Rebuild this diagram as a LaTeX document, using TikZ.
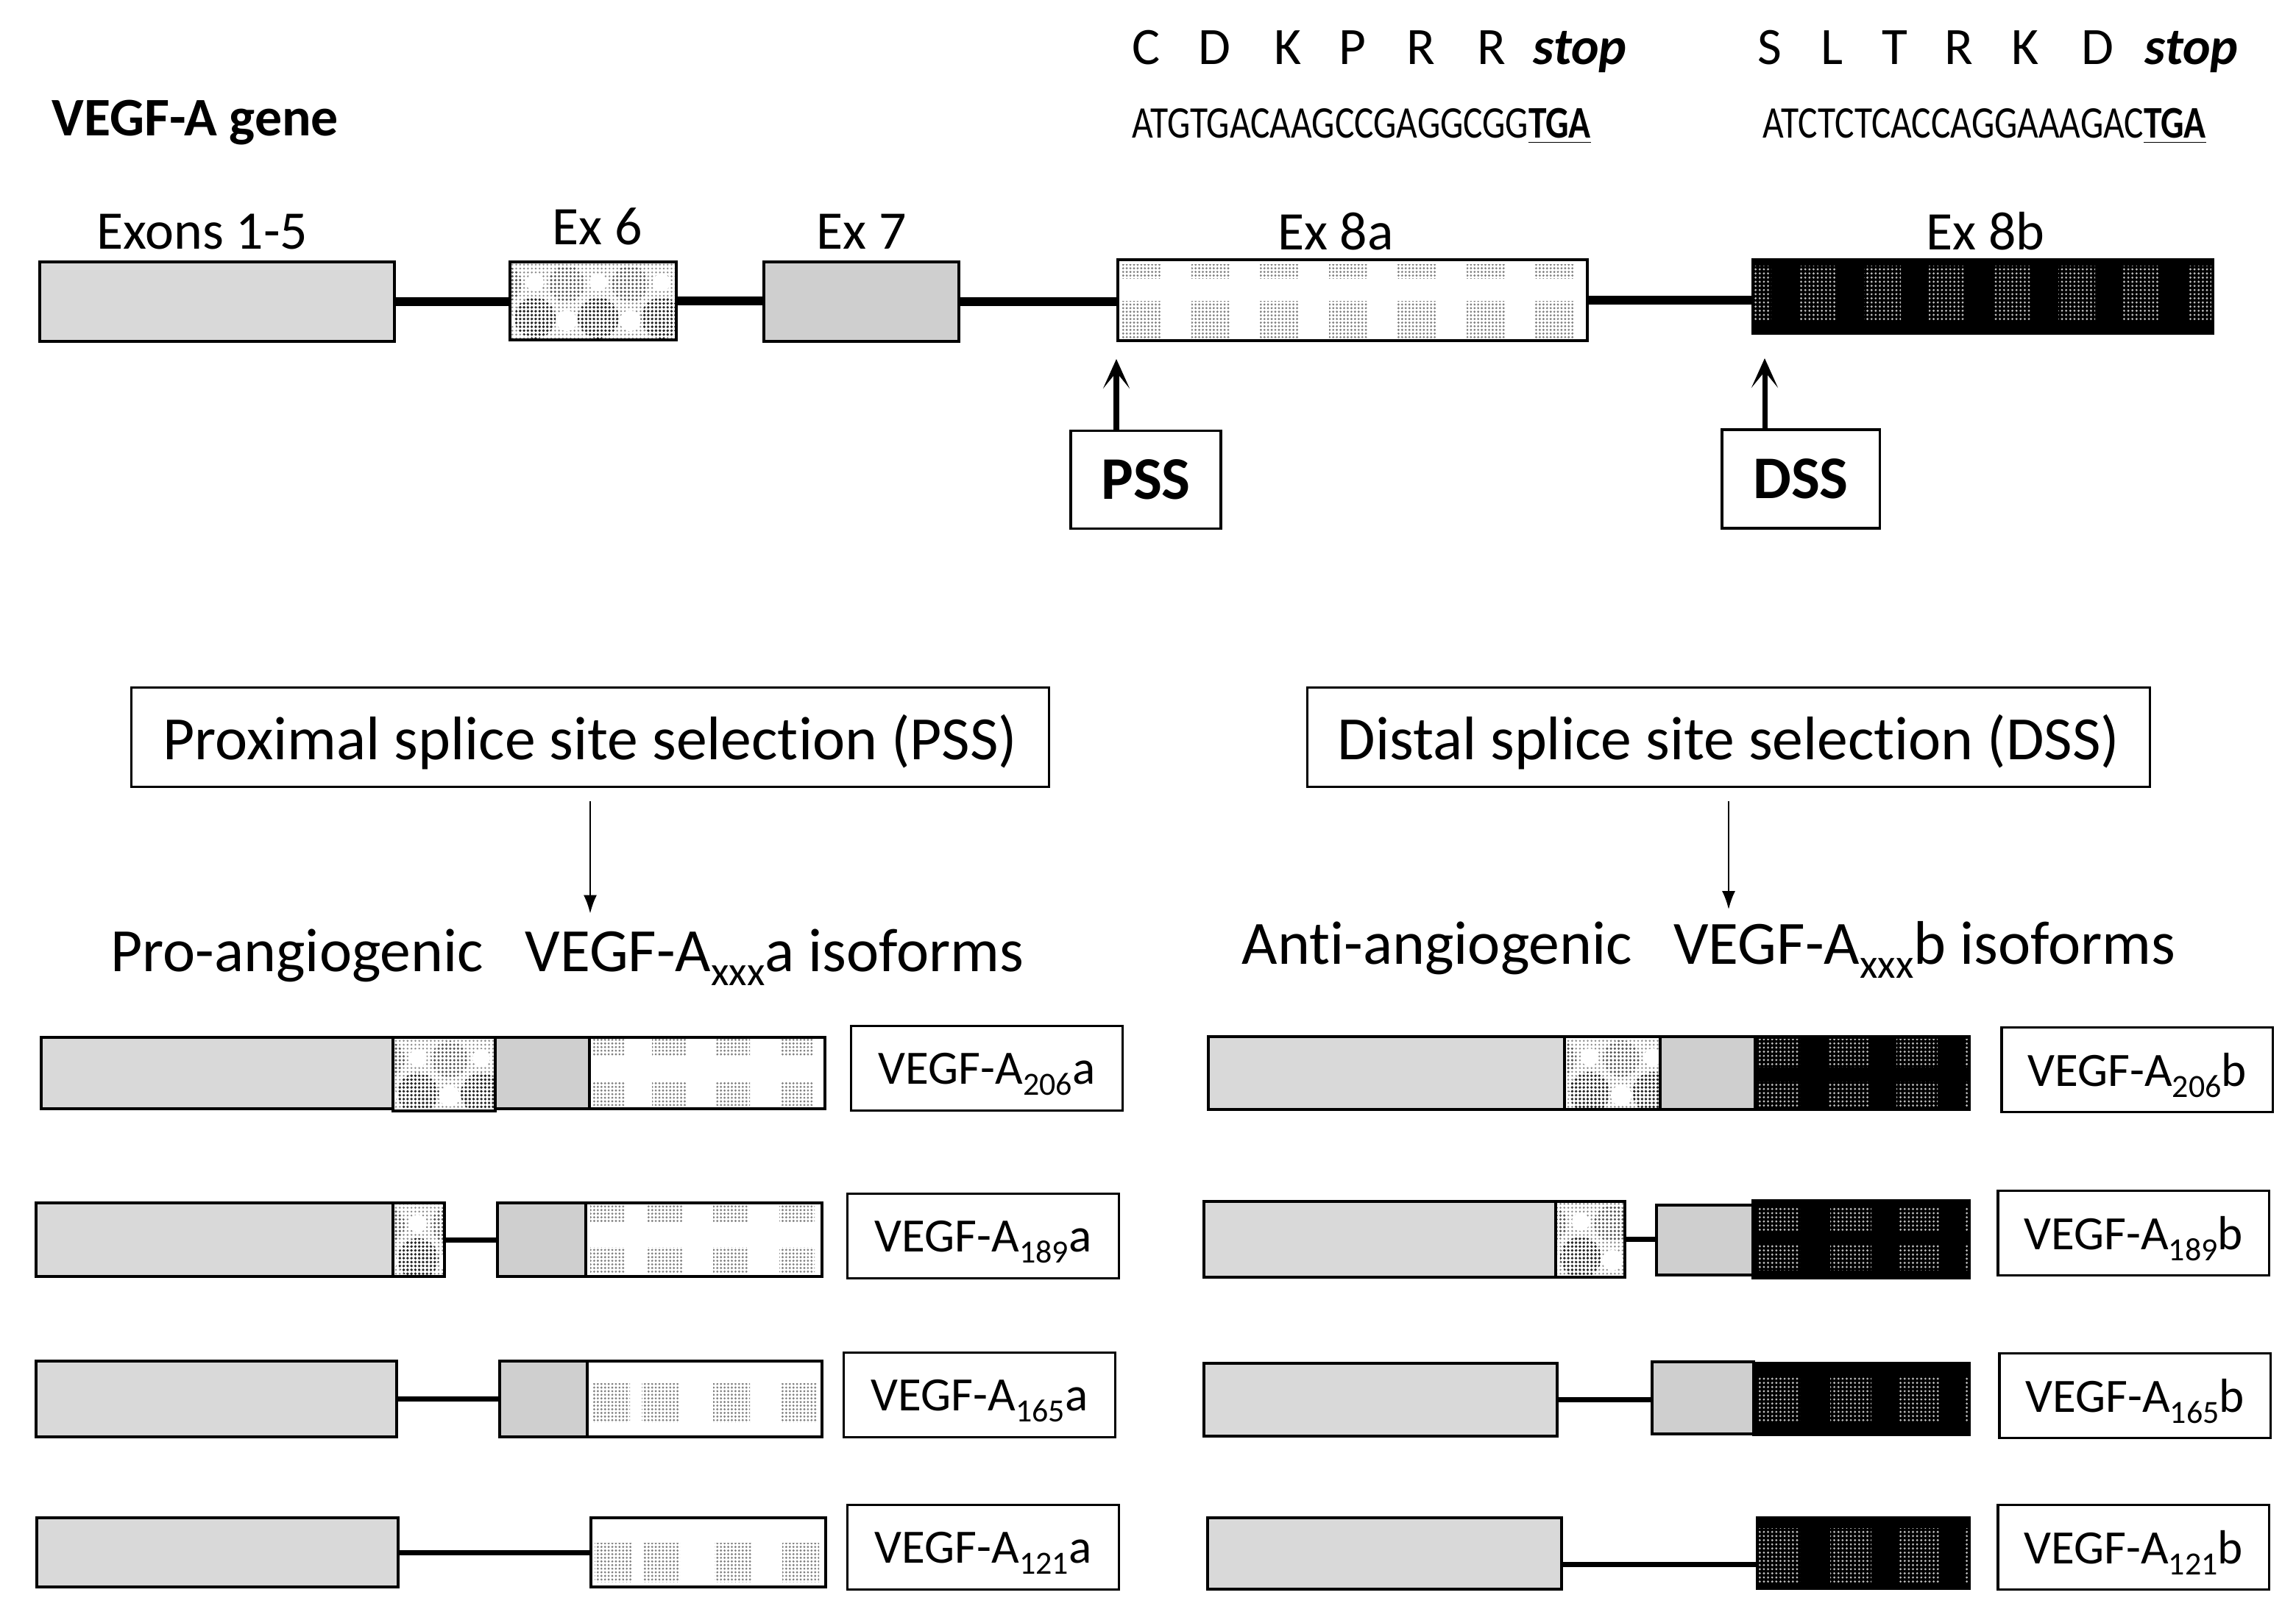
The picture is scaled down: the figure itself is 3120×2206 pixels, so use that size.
\documentclass[tikz,border=0pt]{standalone}
\usepackage{fontspec}
\setmainfont{Carlito}[Ligatures=CommonOff]
\usetikzlibrary{arrows.meta,patterns.meta,calc}
\newcommand\fs[1]{\fontsize{#1pt}{#1pt}\selectfont}
\newcommand\lsub[1]{\raisebox{-4.3pt}{\fs{12.5}#1}}
\newcommand\hsub[1]{\raisebox{-5.5pt}{\fs{16}#1}}
\newcommand\exbox[6]{%
  \pgfmathsetmacro\exw{(#5-#3)/100}%
  \pgfmathsetmacro\exh{(#6-#4)/100}%
  \node[#2, minimum width=\exw cm, minimum height=\exh cm] (#1) at (#3,#4) {};}
\begin{document}
\begin{tikzpicture}[x=0.01cm, y=-0.01cm,
  exon/.style={draw=black, line width=1.1pt, rectangle, inner sep=0pt, outer sep=0pt, anchor=north west},
  e15/.style={exon, fill=black!15},
  e7/.style={exon, fill=black!19},
  e6/.style={exon, fill=white, path picture={
      \fill[pattern={Dots[radius=0.4pt,distance=1.5pt]}, pattern color=black!45]
        (path picture bounding box.south west) rectangle (path picture bounding box.north east);
      \foreach \k in {-1,0,1,2}{
        \fill[pattern={Dots[radius=0.55pt,distance=1.5pt]}, pattern color=black!85]
          ([shift={(34+86*\k,76)}]path picture bounding box.north west) circle (0.28cm);
        \fill[pattern={Dots[radius=0.5pt,distance=1.5pt]}, pattern color=black!65]
          ([shift={(77+86*\k,30)}]path picture bounding box.north west) circle (0.25cm);
        \fill[white] ([shift={(77+86*\k,80)}]path picture bounding box.north west) circle (0.14cm);
        \fill[white] ([shift={(34+86*\k,28)}]path picture bounding box.north west) circle (0.12cm);
      }
  }},
  e8a/.style n args={3}{exon, fill=white, path picture={
      \foreach \k in {#1}{\foreach \ya/\yb in {#3}{
        \fill[pattern={Dots[radius=0.45pt,distance=1.4pt]}, pattern color=black!50]
          ([shift={(\k,\ya)}]path picture bounding box.north west) rectangle ([shift={(\k+#2,\yb)}]path picture bounding box.north west);}}
  }},
  e8b/.style n args={3}{exon, fill=black, path picture={
      \foreach \k in {#1}{\foreach \ya/\yb in {#3}{
        \fill[pattern={Dots[radius=0.45pt,distance=1.6pt]}, pattern color=black!25]
          ([shift={(\k,\ya)}]path picture bounding box.north west) rectangle ([shift={(\k+#2,\yb)}]path picture bounding box.north west);}}
  }},
  intron/.style={line width=3.2pt},
  sintron/.style={line width=2pt},
  exlab/.style={anchor=base, inner sep=0pt, font=\fs{21}},
  aa/.style={anchor=base, inner sep=0pt, font=\fs{20.3}},
  dna/.style={anchor=base west, inner sep=0pt, font=\fs{17.5}},
  sitebox/.style={draw, line width=0.9pt, inner sep=0pt, text depth=0pt, font=\fs{23.4}\bfseries},
  selbox/.style={draw, line width=0.9pt, inner sep=0pt, text depth=0pt, font=\fs{23.8}},
  heading/.style={anchor=base, inner sep=0pt, font=\fs{23.8}},
  isolab/.style={draw, line width=0.9pt, inner sep=0pt, text depth=0pt, minimum width=3.68cm, minimum height=1.15cm, font=\fs{18.5}},
  bigarrow/.style={line width=2pt, -{Stealth[length=0.4cm,width=0.36cm,inset=0.22cm]}},
  downarrow/.style={line width=0.7pt, -{Latex[length=0.25cm,width=0.18cm]}}
]
\fill[white] (0,0) rectangle (3120,2206);
\useasboundingbox (0,0) rectangle (3120,2206);

% ---------- title ----------
\node[anchor=base west, inner sep=0pt, font=\fs{21}\bfseries] (title) at (70,185) {VEGF-A gene};

% ---------- amino acids ----------
\foreach \l/\x [count=\i] in {C/1558, D/1650, K/1750, P/1838, R/1931, R/2027}
  \node[aa] (aaP\i) at (\x,88) {\l};
\node[aa] (stopP) at (2147,88) {\textbf{\textit{stop}}};
\foreach \l/\x [count=\i] in {S/2405, L/2489, T/2575, R/2662, K/2752, D/2850}
  \node[aa] (aaD\i) at (\x,88) {\l};
\node[aa] (stopD) at (2978,88) {\textbf{\textit{stop}}};
\node[dna] (dnaP) at (1538,188) {\scalebox{0.805}[1]{ATGTGACAAGCCGAGGCGG\underline{\textbf{TGA}}}};
\node[dna] (dnaD) at (2395,188) {\scalebox{0.805}[1]{ATCTCTCACCAGGAAAGAC\underline{\textbf{TGA}}}};

% ---------- gene ----------
\exbox{g15}{e15}{54}{356}{536}{464}
\exbox{g6}{e6}{693}{356}{919}{462}
\exbox{g7}{e7}{1038}{356}{1303}{464}
\exbox{g8a}{e8a={6,100,193,287,380,474,567}{52}{7/25,56/106}}{1519}{353}{2157}{463}
\exbox{g8b}{e8b={-25,63,151,239,327,415,503,591}{50}{8/82}}{2382}{353}{3007}{453}
\draw[intron] (g15.east) -- (g15.east -| g6.west);
\draw[intron] (g6.east) -- (g6.east -| g7.west);
\draw[intron] (g7.east) -- (g7.east -| g8a.west);
\draw[intron] (g8a.east) -- (g8a.east -| g8b.west);
\node[exlab] (l15) at (275,338) {Exons 1-5};
\node[exlab] (l6) at (812,333) {Ex 6};
\node[exlab] (l7) at (1171,338) {Ex 7};
\node[exlab] (l8a) at (1815,340) {Ex 8a};
\node[exlab] (l8b) at (2698,340) {Ex 8b};

% ---------- splice sites ----------
\node[sitebox, minimum width=2.04cm, minimum height=1.33cm] (pss) at (1557,652) {PSS};
\node[sitebox, minimum width=2.14cm, minimum height=1.34cm] (dss) at (2447,651) {DSS};
\coordinate (tipP) at (1517,488);
\coordinate (tipD) at (2398,487);
\draw[bigarrow] (pss.north -| tipP) -- (tipP);
\draw[bigarrow] (dss.north -| tipD) -- (tipD);

% ---------- selection ----------
\node[selbox, minimum width=12.46cm, minimum height=1.35cm] (psssel) at (802,1002) {Proximal splice site selection (PSS)};
\node[selbox, minimum width=11.44cm, minimum height=1.35cm] (dsssel) at (2349,1002) {Distal splice site selection (DSS)};
\node[heading] (proh) at (771,1320) {Pro-angiogenic\hspace{0.45em} VEGF-A\hsub{xxx}a isoforms};
\node[heading] (antih) at (2322,1310) {Anti-angiogenic\hspace{0.45em} VEGF-A\hsub{xxx}b isoforms};
\draw[downarrow, shorten <=0.18cm, shorten >=0.2cm] (psssel.south) -- (psssel.south |- proh.north);
\draw[downarrow, shorten <=0.18cm, shorten >=0.15cm] (dsssel.south) -- (dsssel.south |- antih.north);

% ---------- a isoforms ----------
\exbox{a1e15}{e15}{56}{1410}{534}{1507}
\exbox{a1e6}{e6}{534}{1410}{673}{1510}
\exbox{a1e7}{e7}{673}{1410}{801}{1507}
\exbox{a1e8}{e8a={3,85,172,259}{46}{2/25,60/92}}{801}{1410}{1121}{1507}

\exbox{a2e15}{e15}{49}{1635}{534}{1735}
\exbox{a2e6}{e6}{534}{1635}{604}{1735}
\exbox{a2e7}{e7}{676}{1635}{796}{1735}
\exbox{a2e8}{e8a={6,84,173,263}{48}{2/25,60/95}}{796}{1635}{1117}{1735}
\draw[sintron] (a2e6.east) -- (a2e6.east -| a2e7.west);

\exbox{a3e15}{e15}{49}{1850}{539}{1953}
\exbox{a3e7}{e7}{679}{1850}{798}{1953}
\exbox{a3e8}{e8a={8,74,171,263}{50}{30/83}}{798}{1850}{1117}{1953}
\draw[sintron] (a3e15.east) -- (a3e15.east -| a3e7.west);

\exbox{a4e15}{e15}{50}{2063}{541}{2157}
\exbox{a4e8}{e8a={5,71,168,260}{50}{34/87}}{803}{2063}{1122}{2157}
\draw[sintron] (a4e15.east) -- (a4e15.east -| a4e8.west);

\node[isolab] (la1) at (1341,1452) {VEGF-A\lsub{206}a};
\node[isolab] (la2) at (1336,1680) {VEGF-A\lsub{189}a};
\node[isolab] (la3) at (1331,1896) {VEGF-A\lsub{165}a};
\node[isolab] (la4) at (1336,2103) {VEGF-A\lsub{121}a};

% ---------- b isoforms ----------
\exbox{b1e15}{e15}{1642}{1409}{2126}{1508}
\exbox{b1e6}{e6}{2126}{1409}{2256}{1508}
\exbox{b1e7}{e7}{2256}{1409}{2385}{1508}
\exbox{b1e8}{e8b={5,100,192,284}{56}{3/41,61/96}}{2385}{1409}{2676}{1508}

\exbox{b2e15}{e15}{1636}{1633}{2114}{1736}
\exbox{b2e6}{e6}{2114}{1633}{2208}{1736}
\exbox{b2e7}{e7}{2251}{1638}{2382}{1733}
\exbox{b2e8}{e8b={8,105,197,289}{56}{8/42,58/94}}{2382}{1632}{2676}{1737}
\draw[sintron] (b2e6.east) -- (b2e6.east -| b2e7.west);

\exbox{b3e15}{e15}{1636}{1853}{2116}{1952}
\exbox{b3e7}{e7}{2245}{1851}{2383}{1949}
\exbox{b3e8}{e8b={7,104,196,288}{56}{17/80}}{2383}{1853}{2676}{1950}
\draw[sintron] (b3e15.east) -- (b3e15.east -| b3e7.west);

\exbox{b4e15}{e15}{1641}{2063}{2122}{2160}
\exbox{b4e8}{e8b={2,99,191,283}{56}{14/87}}{2388}{2063}{2676}{2159}
\draw[sintron] ([yshift=-0.15cm]b4e15.east) -- ([yshift=-0.15cm]b4e15.east -| b4e8.west);

\node[isolab] (lb1) at (2904,1454) {VEGF-A\lsub{206}b};
\node[isolab] (lb2) at (2899,1676) {VEGF-A\lsub{189}b};
\node[isolab] (lb3) at (2901,1897) {VEGF-A\lsub{165}b};
\node[isolab] (lb4) at (2899,2103) {VEGF-A\lsub{121}b};
\end{tikzpicture}
\end{document}
